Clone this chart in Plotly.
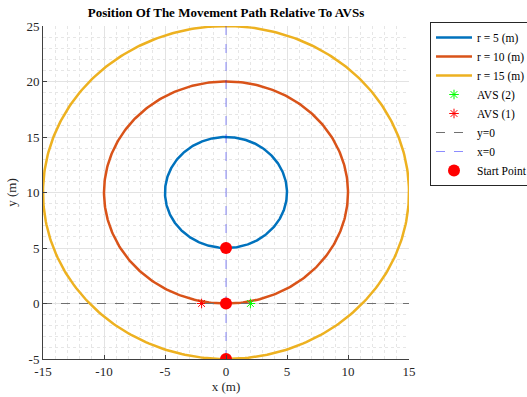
import numpy as np
import plotly.graph_objects as go

# Path circles: all centred at (0, 10)
center = (0.0, 10.0)
radii = [5, 10, 15]
path_names = ["r = 5 (m)", "r = 10 (m)", "r = 15 (m)"]
path_colors = ["#0072BD", "#D95319", "#EDB120"]

# AVS positions
avs2_x, avs2_y = [2.0], [0.0]
avs1_x, avs1_y = [-2.0], [0.0]

# Start points (bottom of each circle)
start_x = [0.0, 0.0, 0.0]
start_y = [5.0, 0.0, -5.0]

x_range = [-15, 15]
y_range = [-5, 25]
x_ticks = [-15, -10, -5, 0, 5, 10, 15]
y_ticks = [-5, 0, 5, 10, 15, 20, 25]

font_family = "Liberation Serif, Times New Roman, serif"

fig = go.Figure()

theta = np.linspace(0, 2 * np.pi, 361)
for r, name, col in zip(radii, path_names, path_colors):
    fig.add_trace(go.Scatter(
        x=center[0] + r * np.sin(theta),
        y=center[1] - r * np.cos(theta),
        mode="lines", name=name,
        line=dict(color=col, width=2.5),
    ))

fig.add_trace(go.Scatter(
    x=avs2_x, y=avs2_y, mode="markers", name="AVS (2)",
    marker=dict(symbol="asterisk-open", size=8, color="#00FF00",
                line=dict(color="#00FF00", width=1)),
))
fig.add_trace(go.Scatter(
    x=avs1_x, y=avs1_y, mode="markers", name="AVS (1)",
    marker=dict(symbol="asterisk-open", size=8, color="#FF0000",
                line=dict(color="#FF0000", width=1)),
))
fig.add_trace(go.Scatter(
    x=x_range, y=[0, 0], mode="lines", name="y=0",
    line=dict(color="#707070", width=1, dash="dash"),
))
fig.add_trace(go.Scatter(
    x=[0, 0], y=y_range, mode="lines", name="x=0",
    line=dict(color="rgba(0,0,255,0.45)", width=1, dash="dash"),
))
fig.add_trace(go.Scatter(
    x=start_x, y=start_y, mode="markers", name="Start Point",
    marker=dict(symbol="circle", size=12, color="#FF0000"),
))

axis_common = dict(
    showgrid=True, gridcolor="#E3E3E3", gridwidth=1,
    zeroline=False, showline=True, linecolor="#404040", linewidth=1,
    ticks="inside", ticklen=4, tickcolor="#404040",
    tickfont=dict(family=font_family, size=13, color="#262626"),
    minor=dict(showgrid=True, gridcolor="#E6E6E6", griddash="dot",
               gridwidth=1, dtick=1),
)

fig.update_layout(
    width=527, height=397,
    margin=dict(l=43, r=118, t=26, b=38, autoexpand=False),
    paper_bgcolor="white", plot_bgcolor="white",
    font=dict(family=font_family, color="#262626"),
    title=dict(text="<b>Position Of The Movement Path Relative To AVSs</b>",
               x=(43 + 409) / 2 / 527, xanchor="center", y=0.968, yanchor="middle",
               font=dict(family=font_family, size=13, color="black")),
    xaxis=dict(range=x_range, tickvals=x_ticks, ticktext=[str(v) for v in x_ticks],
               title=dict(text="x (m)", standoff=4,
                          font=dict(family=font_family, size=13)),
               **axis_common),
    yaxis=dict(range=y_range, tickvals=y_ticks, ticktext=[str(v) for v in y_ticks],
               title=dict(text="y (m)", standoff=6,
                          font=dict(family=font_family, size=13)),
               **axis_common),
    legend=dict(xref="container", yref="container",
                x=430 / 527, y=1 - 22 / 397, xanchor="left", yanchor="top",
                bgcolor="white", bordercolor="#262626", borderwidth=1,
                font=dict(family=font_family, size=11.5, color="black"),
                tracegroupgap=0, itemwidth=36),
    showlegend=True,
)

fig.write_html("out.html")
